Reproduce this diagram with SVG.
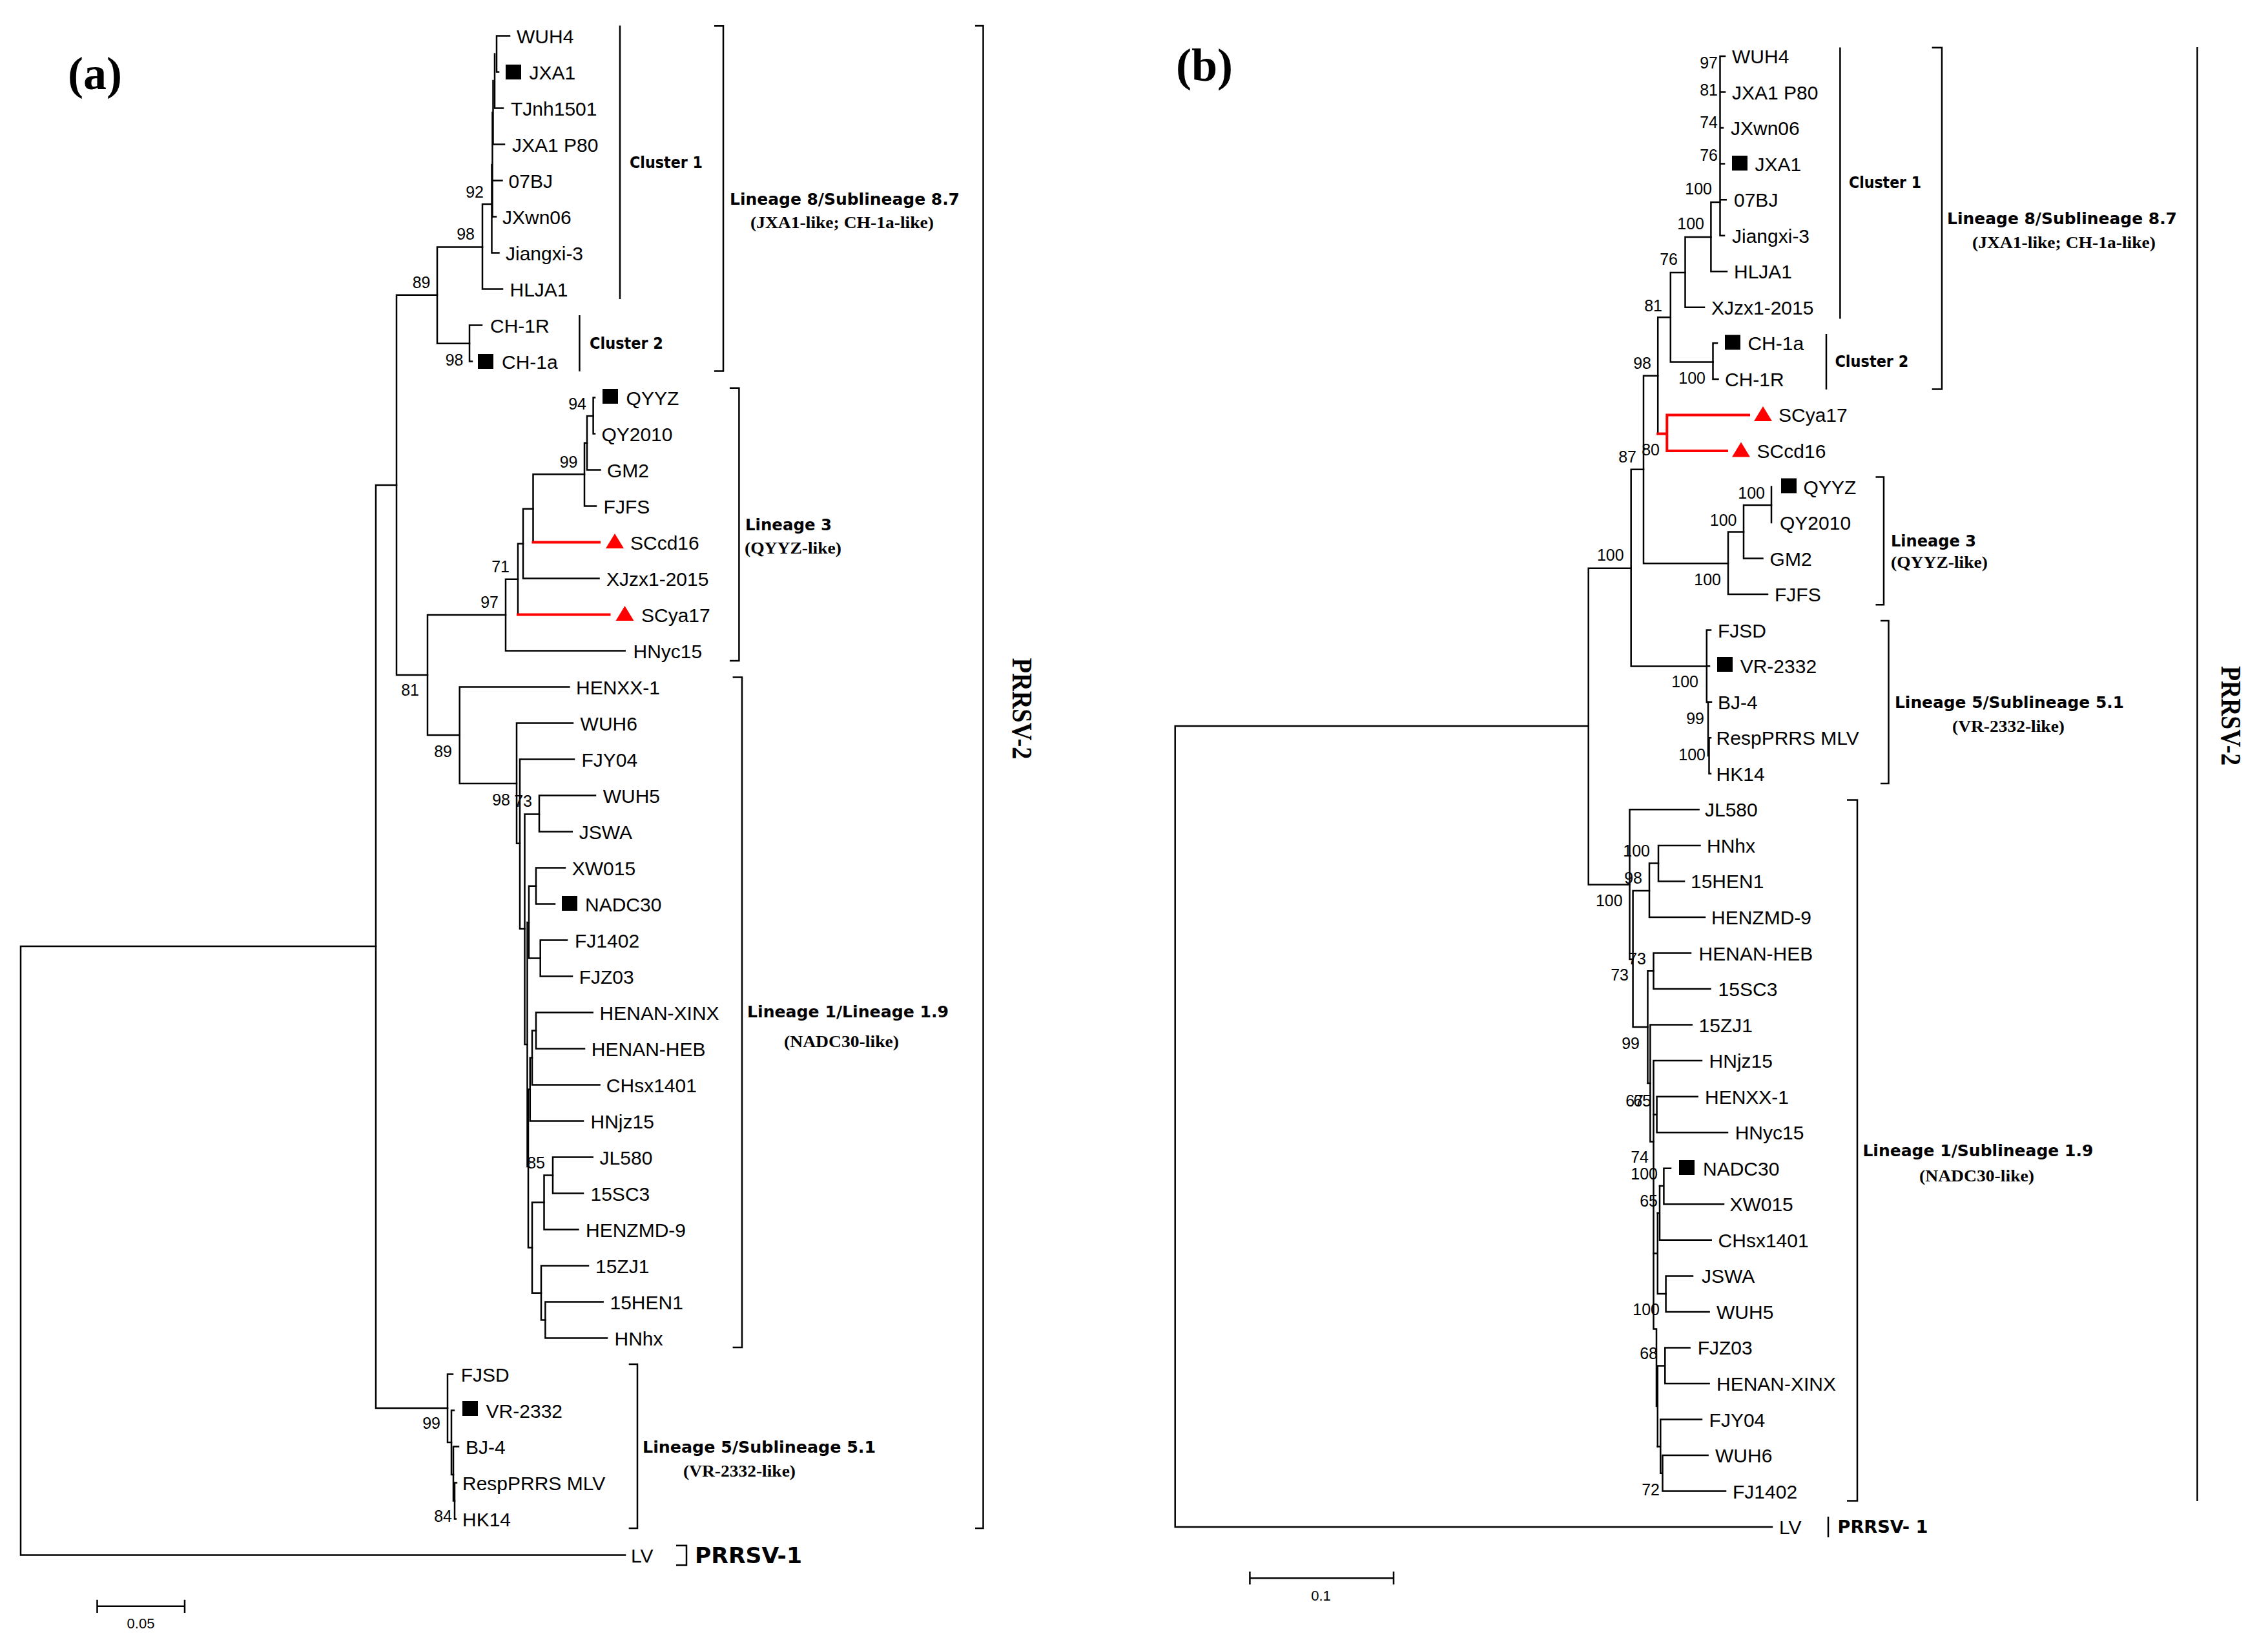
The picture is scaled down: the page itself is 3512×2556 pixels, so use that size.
<svg xmlns="http://www.w3.org/2000/svg" xmlns:xlink="http://www.w3.org/1999/xlink" width="3512" height="2556" viewBox="0 0 3512 2556">
<style>
.br{fill:none;stroke:#000;stroke-width:2.5;stroke-linecap:square}
.red{fill:none;stroke:#f00;stroke-width:4;stroke-linecap:square}
.brk{fill:none;stroke:#000;stroke-width:2.5}
text{font-family:"Liberation Sans",Arial,sans-serif;fill:#000}
.tip{font-size:30px}
.bs{font-size:25px;text-anchor:end}
.grp{font-family:"DejaVu Sans",Verdana,sans-serif;font-weight:bold;font-size:25px}
.sub{font-family:"Liberation Serif","Times New Roman",serif;font-weight:bold;font-size:25px}
.pl{font-family:"Liberation Serif","Times New Roman",serif;font-weight:bold;font-size:72px}
.rot{font-family:"Liberation Serif","Times New Roman",serif;font-weight:bold;font-size:44px;text-anchor:middle}
.sc{font-size:22px;text-anchor:middle}
</style>
<defs>
<rect id="sq" width="24" height="23" fill="#000"/>
<path id="tri" d="M14,0 L28,23 L0,23 Z" fill="#f00"/>
</defs>
<rect width="3512" height="2556" fill="#fff"/>

<text class="pl" x="105" y="138">(a)</text>
<text class="pl" x="1821" y="125">(b)</text>

<!-- ===== Panel (a) connectors ===== -->
<g id="connectors-a">
<path class="br" d="M582,1465 H32 V2407.5 H968"/>
<path class="br" d="M614,751 H582 V2180 H693"/>
<path class="br" d="M677,456.7 H614 V1045 H662"/>
<path class="br" d="M747,382.4 H677 V531.8 H727"/>
<path class="br" d="M761.5,316 H747 V447.5 H778"/>
<path class="br" d="M761.5,255 V391.5 H772.5"/>
<path class="br" d="M762.5,174 V335.5 H768 M762.5,279.5 H777.5"/>
<path class="br" d="M763.5,125 V223.5 H781"/>
<path class="br" d="M766,83.5 V167.5 H779"/>
<path class="br" d="M772,111.5 H769 V55.5 H789"/>
<path class="br" d="M746,503.5 H727 V559.5 H731"/>
<path class="br" d="M783,952 H662 V1138 H711.7"/>
<path class="br" d="M802,896.7 H783 V1007.5 H967.7"/>
<path class="br" d="M810,841.7 H802 V951.5"/>
<path class="red" d="M802,951.5 H943.5"/>
<path class="br" d="M825.5,787.7 H810 V895.5 H927.5"/>
<path class="br" d="M905,734.3 H825.5 V839.5"/>
<path class="red" d="M825.5,839.5 H928"/>
<path class="br" d="M909,685.7 H905 V783.5 H923"/>
<path class="br" d="M918.6,644 H909 V727.5 H929.5"/>
<path class="br" d="M921,615.5 H918.6 V671.5 H921"/>
<path class="br" d="M881.4,1063.5 H711.7 V1213 H800"/>
<path class="br" d="M887,1119.5 H800 V1305.7 H805"/>
<path class="br" d="M889,1175.5 H805 V1438 H812.5"/>
<path class="br" d="M835,1260.4 H812.5 V1617 H816.5"/>
<path class="br" d="M922,1231.5 H835 V1287.5 H885.8"/>
<path class="br" d="M819,1428 H816.5 V1806 H818"/>
<path class="br" d="M830,1371.8 H819 V1483.6 H836.7"/>
<path class="br" d="M875,1343.5 H830 V1399.5 H859"/>
<path class="br" d="M878,1455.5 H836.7 V1511.5 H886"/>
<path class="br" d="M820.8,1686.5 H818 V1931.5 H824"/>
<path class="br" d="M824,1637.6 H820.8 V1735.5 H903"/>
<path class="br" d="M830,1595.5 H824 V1679.5 H928.6"/>
<path class="br" d="M917.7,1567.5 H830 V1623.5 H905"/>
<path class="br" d="M842.5,1861.6 H824 V2001.7 H838"/>
<path class="br" d="M856,1819.5 H842.5 V1903.5 H895.4"/>
<path class="br" d="M917.7,1791.5 H856 V1847.5 H903"/>
<path class="br" d="M911,1959.5 H838 V2043.5 H844.4"/>
<path class="br" d="M933.7,2015.5 H844.4 V2071.5 H940"/>
<path class="br" d="M701,2127.5 H693 V2233 H699"/>
<path class="br" d="M703,2183.5 H699 V2283 H702"/>
<path class="br" d="M710,2239.5 H702 V2323.5 H704"/>
<path class="br" d="M707,2295.5 H704 V2351.5 H706"/>
</g>

<!-- Panel (a) brackets -->
<g id="brackets-a">
<path class="brk" d="M960,39.5 V463"/>
<path class="brk" d="M897.4,488 V575"/>
<path class="brk" d="M1106,40.3 H1120 V574.5 H1106"/>
<path class="brk" d="M1130,600.7 H1144.4 V1023 H1130"/>
<path class="brk" d="M1134.6,1048.6 H1149 V2086 H1134.6"/>
<path class="brk" d="M973.7,2112 H987 V2366 H973.7"/>
<path class="brk" d="M1510,40 H1522.5 V2366 H1510"/>
<path class="brk" d="M1047,2392.7 H1063 V2423 H1047"/>
</g>

<!-- Panel (a) leaves -->
<g id="a-WUH4"><text class="tip" x="800" y="66.5">WUH4</text></g>
<g id="a-JXA1"><use href="#sq" x="783" y="100"/><text class="tip" x="819.5" y="122.5">JXA1</text></g>
<g id="a-TJnh1501"><text class="tip" x="791" y="178.5">TJnh1501</text></g>
<g id="a-JXA1P80"><text class="tip" x="793" y="234.5">JXA1 P80</text></g>
<g id="a-07BJ"><text class="tip" x="787.6" y="290.5">07BJ</text></g>
<g id="a-JXwn06"><text class="tip" x="778" y="346.5">JXwn06</text></g>
<g id="a-Jiangxi3"><text class="tip" x="783" y="402.5">Jiangxi-3</text></g>
<g id="a-HLJA1"><text class="tip" x="789.5" y="458.5">HLJA1</text></g>
<g id="a-CH1R"><text class="tip" x="759" y="514.5">CH-1R</text></g>
<g id="a-CH1a"><use href="#sq" x="740" y="548"/><text class="tip" x="777" y="570.5">CH-1a</text></g>
<g id="a-QYYZ"><use href="#sq" x="933" y="602"/><text class="tip" x="969.6" y="626.5">QYYZ</text></g>
<g id="a-QY2010"><text class="tip" x="931.4" y="682.5">QY2010</text></g>
<g id="a-GM2"><text class="tip" x="940" y="738.5">GM2</text></g>
<g id="a-FJFS"><text class="tip" x="934.6" y="794.5">FJFS</text></g>
<g id="a-SCcd16"><use href="#tri" x="938" y="826"/><text class="tip" x="976" y="850.5">SCcd16</text></g>
<g id="a-XJzx1-2015"><text class="tip" x="939" y="906.5">XJzx1-2015</text></g>
<g id="a-SCya17"><use href="#tri" x="953.5" y="938"/><text class="tip" x="993" y="962.5">SCya17</text></g>
<g id="a-HNyc15"><text class="tip" x="980.5" y="1018.5">HNyc15</text></g>
<g id="a-HENXX-1"><text class="tip" x="892" y="1074.5">HENXX-1</text></g>
<g id="a-WUH6"><text class="tip" x="898.6" y="1130.5">WUH6</text></g>
<g id="a-FJY04"><text class="tip" x="900.5" y="1186.5">FJY04</text></g>
<g id="a-WUH5"><text class="tip" x="933.7" y="1242.5">WUH5</text></g>
<g id="a-JSWA"><text class="tip" x="896.7" y="1298.5">JSWA</text></g>
<g id="a-XW015"><text class="tip" x="885.8" y="1354.5">XW015</text></g>
<g id="a-NADC30"><use href="#sq" x="870" y="1387"/><text class="tip" x="906" y="1410.5">NADC30</text></g>
<g id="a-FJ1402"><text class="tip" x="890" y="1466.5">FJ1402</text></g>
<g id="a-FJZ03"><text class="tip" x="896.7" y="1522.5">FJZ03</text></g>
<g id="a-HENAN-XINX"><text class="tip" x="928.6" y="1578.5">HENAN-XINX</text></g>
<g id="a-HENAN-HEB"><text class="tip" x="915.8" y="1634.5">HENAN-HEB</text></g>
<g id="a-CHsx1401"><text class="tip" x="938.8" y="1690.5">CHsx1401</text></g>
<g id="a-HNjz15"><text class="tip" x="914.5" y="1746.5">HNjz15</text></g>
<g id="a-JL580"><text class="tip" x="928.6" y="1802.5">JL580</text></g>
<g id="a-15SC3"><text class="tip" x="914.5" y="1858.5">15SC3</text></g>
<g id="a-HENZMD-9"><text class="tip" x="907" y="1914.5">HENZMD-9</text></g>
<g id="a-15ZJ1"><text class="tip" x="922" y="1970.5">15ZJ1</text></g>
<g id="a-15HEN1"><text class="tip" x="944.5" y="2026.5">15HEN1</text></g>
<g id="a-HNhx"><text class="tip" x="951.5" y="2082.5">HNhx</text></g>
<g id="a-FJSD"><text class="tip" x="713.7" y="2138.5">FJSD</text></g>
<g id="a-VR-2332"><use href="#sq" x="716" y="2169"/><text class="tip" x="752.6" y="2194.5">VR-2332</text></g>
<g id="a-BJ-4"><text class="tip" x="721" y="2250.5">BJ-4</text></g>
<g id="a-RespPRRS"><text class="tip" x="716" y="2306.5">RespPRRS MLV</text></g>
<g id="a-HK14"><text class="tip" x="716" y="2362.5">HK14</text></g>
<g id="a-LV"><text class="tip" x="977" y="2418.5">LV</text></g>

<!-- Panel (a) bootstrap -->
<g id="bootstrap-a">
<text class="bs" x="666.5" y="446">89</text>
<text class="bs" x="749" y="306">92</text>
<text class="bs" x="735" y="371">98</text>
<text class="bs" x="717.5" y="566">98</text>
<text class="bs" x="908" y="634">94</text>
<text class="bs" x="894.5" y="724">99</text>
<text class="bs" x="789" y="885.7">71</text>
<text class="bs" x="772" y="940.7">97</text>
<text class="bs" x="649" y="1077">81</text>
<text class="bs" x="700" y="1172">89</text>
<text class="bs" x="790" y="1247">98</text>
<text class="bs" x="824" y="1249">73</text>
<text class="bs" x="844" y="1809">85</text>
<text class="bs" x="682" y="2212">99</text>
<text class="bs" x="700" y="2356">84</text>
</g>

<!-- Panel (a) group labels -->
<g id="labels-a">
<text class="grp" x="975" y="260" textLength="113" lengthAdjust="spacingAndGlyphs">Cluster 1</text>
<text class="grp" x="913" y="540" textLength="114" lengthAdjust="spacingAndGlyphs">Cluster 2</text>
<text class="grp" x="1130" y="316.5" textLength="356" lengthAdjust="spacingAndGlyphs">Lineage 8/Sublineage 8.7</text>
<text class="sub" x="1162" y="353" textLength="284" lengthAdjust="spacingAndGlyphs">(JXA1-like; CH-1a-like)</text>
<text class="grp" x="1154" y="820.7" textLength="134" lengthAdjust="spacingAndGlyphs">Lineage 3</text>
<text class="sub" x="1153" y="856.7" textLength="150" lengthAdjust="spacingAndGlyphs">(QYYZ-like)</text>
<text class="grp" x="1157" y="1575.4" textLength="312" lengthAdjust="spacingAndGlyphs">Lineage 1/Lineage 1.9</text>
<text class="sub" x="1214" y="1621" textLength="178" lengthAdjust="spacingAndGlyphs">(NADC30-like)</text>
<text class="grp" x="995" y="2249" textLength="361" lengthAdjust="spacingAndGlyphs">Lineage 5/Sublineage 5.1</text>
<text class="sub" x="1058" y="2286" textLength="174" lengthAdjust="spacingAndGlyphs">(VR-2332-like)</text>
<text class="grp" x="1076" y="2420" style="font-size:33px" textLength="166" lengthAdjust="spacingAndGlyphs">PRRSV-1</text>
<text class="rot" transform="translate(1568,1097) rotate(90)" x="0" y="0" textLength="157" lengthAdjust="spacingAndGlyphs">PRRSV-2</text>
</g>

<!-- Panel (a) scale bar -->
<g id="scale-a">
<path class="brk" d="M150.5,2486.7 H286 M150.5,2476.7 V2497 M286,2476.7 V2497"/>
<text class="sc" x="218" y="2521">0.05</text>
</g>

<!-- ===== Panel (b) connectors ===== -->
<g id="connectors-b">
<path class="br" d="M2459.7,1124 H1819.7 V2364 H2744"/>
<path class="br" d="M2525.7,879.8 H2459.7 V1369.5 H2523.5"/>
<path class="br" d="M2545,726.8 H2525.7 V1031.5 H2642.8"/>
<path class="br" d="M2567.2,581.7 H2545 V872.3 H2676"/>
<path class="br" d="M2586.8,491.3 H2567.2 V671.4"/>
<path class="red" d="M2567.2,671.4 H2581.3 M2708,642.4 H2581.3 V697.9 H2674"/>
<path class="br" d="M2609.5,422 H2586.8 V560.5 H2652.5"/>
<path class="br" d="M2659,531.3 H2652.5 V586.9 H2660.5"/>
<path class="br" d="M2649.4,367 H2609.5 V475.8 H2639"/>
<path class="br" d="M2663.5,313 H2649.4 V420.2 H2674"/>
<path class="br" d="M2671,87 H2663.5 V364.7 H2670 M2663.5,142.5 H2671 M2663.5,198.1 H2668 M2663.5,253.6 H2670 M2663.5,309.2 H2672.7"/>
<path class="br" d="M2700,823.6 H2676 V920.1 H2737"/>
<path class="br" d="M2743,782 H2700 V864.6 H2729.5"/>
<path class="br" d="M2743,753.5 V809"/>
<path class="br" d="M2649,975.6 H2642.8 V1087 H2645 M2642.8,1031.2 H2647"/>
<path class="br" d="M2645,1086.7 V1170 M2645,1086.7 H2650 M2645,1170 H2646.5 M2646.5,1142.3 V1197.8 M2646.5,1142.3 H2649 M2646.5,1197.8 H2649"/>
<path class="br" d="M2630.6,1253.3 H2523.5 V1485 H2528.6"/>
<path class="br" d="M2554,1379 H2528.6 V1590 H2551.5"/>
<path class="br" d="M2568,1336.6 H2554 V1420 H2640"/>
<path class="br" d="M2632.5,1308.9 H2568 V1364.4 H2608"/>
<path class="br" d="M2560.5,1503.3 H2551.5 V1677 H2555.4"/>
<path class="br" d="M2618,1475.5 H2560.5 V1531 H2648.5"/>
<path class="br" d="M2619.8,1586.6 H2555.4 V1767.6 H2560.5"/>
<path class="br" d="M2635,1642.1 H2560.5 V2057.5 H2565 V2177 H2566.8"/>
<path class="br" d="M2560.5,1725.5 H2565.6 M2628.7,1697.7 H2565.6 V1753.2 H2675"/>
<path class="br" d="M2570,1836 H2576.4 M2587,1808.7 H2576.4 V1864.3 H2669"/>
<path class="br" d="M2570,1836 V1919.8 H2649.7 M2566.8,1878 H2570"/>
<path class="br" d="M2560.5,1940.5 H2566.8 M2566.8,1878 V2003 H2579.6"/>
<path class="br" d="M2621,1975.4 H2579.6 V2030.9 H2646.6"/>
<path class="br" d="M2566.8,2114.6 V2239.6 M2566.8,2114.6 H2578.3 M2616.6,2086.4 H2578.3 V2142 H2646.6"/>
<path class="br" d="M2566.8,2239.6 H2571.3 M2635,2197.5 H2571.3 V2280.7 H2574.5 M2644.6,2253.1 H2574.5 V2308.6 H2672"/>
</g>

<!-- Panel (b) brackets -->
<g id="brackets-b">
<path class="brk" d="M2849.4,73.4 V493.4"/>
<path class="brk" d="M2828,517 V603"/>
<path class="brk" d="M2991.7,73.8 H3007 V602.4 H2991.7"/>
<path class="brk" d="M2904.5,738.6 H2917 V936.3 H2904.5"/>
<path class="brk" d="M2912,961 H2924.5 V1213 H2912"/>
<path class="brk" d="M2860,1238.6 H2876 V2323.6 H2860"/>
<path class="brk" d="M3402.5,73 V2324"/>
<path class="brk" d="M2831,2348 V2380"/>
</g>

<!-- Panel (b) leaves -->
<g id="b-WUH4"><text class="tip" x="2682" y="98">WUH4</text></g>
<g id="b-JXA1P80"><text class="tip" x="2682" y="153.5">JXA1 P80</text></g>
<g id="b-JXwn06"><text class="tip" x="2680" y="209.1">JXwn06</text></g>
<g id="b-JXA1"><use href="#sq" x="2682" y="241"/><text class="tip" x="2717.5" y="264.6">JXA1</text></g>
<g id="b-07BJ"><text class="tip" x="2685" y="320.2">07BJ</text></g>
<g id="b-Jiangxi3"><text class="tip" x="2682" y="375.7">Jiangxi-3</text></g>
<g id="b-HLJA1"><text class="tip" x="2685" y="431.2">HLJA1</text></g>
<g id="b-XJzx1-2015"><text class="tip" x="2650" y="486.8">XJzx1-2015</text></g>
<g id="b-CH1a"><use href="#sq" x="2671" y="518.5"/><text class="tip" x="2706.4" y="542.3">CH-1a</text></g>
<g id="b-CH1R"><text class="tip" x="2671" y="597.9">CH-1R</text></g>
<g id="b-SCya17"><use href="#tri" x="2716" y="629"/><text class="tip" x="2754" y="653.4">SCya17</text></g>
<g id="b-SCcd16"><use href="#tri" x="2682" y="684.5"/><text class="tip" x="2720.6" y="708.9">SCcd16</text></g>
<g id="b-QYYZ"><use href="#sq" x="2758" y="740.5"/><text class="tip" x="2792.6" y="764.5">QYYZ</text></g>
<g id="b-QY2010"><text class="tip" x="2756" y="820">QY2010</text></g>
<g id="b-GM2"><text class="tip" x="2740.6" y="875.6">GM2</text></g>
<g id="b-FJFS"><text class="tip" x="2748" y="931.1">FJFS</text></g>
<g id="b-FJSD"><text class="tip" x="2660" y="986.6">FJSD</text></g>
<g id="b-VR-2332"><use href="#sq" x="2659" y="1017"/><text class="tip" x="2694.7" y="1042.2">VR-2332</text></g>
<g id="b-BJ-4"><text class="tip" x="2660" y="1097.7">BJ-4</text></g>
<g id="b-RespPRRS"><text class="tip" x="2657.6" y="1153.3">RespPRRS MLV</text></g>
<g id="b-HK14"><text class="tip" x="2657.6" y="1208.8">HK14</text></g>
<g id="b-JL580"><text class="tip" x="2640" y="1264.3">JL580</text></g>
<g id="b-HNhx"><text class="tip" x="2643" y="1319.9">HNhx</text></g>
<g id="b-15HEN1"><text class="tip" x="2618" y="1375.4">15HEN1</text></g>
<g id="b-HENZMD-9"><text class="tip" x="2650" y="1431">HENZMD-9</text></g>
<g id="b-HENAN-HEB"><text class="tip" x="2630.6" y="1486.5">HENAN-HEB</text></g>
<g id="b-15SC3"><text class="tip" x="2660.6" y="1542">15SC3</text></g>
<g id="b-15ZJ1"><text class="tip" x="2630.6" y="1597.6">15ZJ1</text></g>
<g id="b-HNjz15"><text class="tip" x="2646.6" y="1653.1">HNjz15</text></g>
<g id="b-HENXX-1"><text class="tip" x="2640" y="1708.7">HENXX-1</text></g>
<g id="b-HNyc15"><text class="tip" x="2686.7" y="1764.2">HNyc15</text></g>
<g id="b-NADC30"><use href="#sq" x="2600" y="1796"/><text class="tip" x="2637" y="1819.7">NADC30</text></g>
<g id="b-XW015"><text class="tip" x="2678.4" y="1875.3">XW015</text></g>
<g id="b-CHsx1401"><text class="tip" x="2660.6" y="1930.8">CHsx1401</text></g>
<g id="b-JSWA"><text class="tip" x="2635" y="1986.4">JSWA</text></g>
<g id="b-WUH5"><text class="tip" x="2658" y="2041.9">WUH5</text></g>
<g id="b-FJZ03"><text class="tip" x="2628.7" y="2097.4">FJZ03</text></g>
<g id="b-HENAN-XINX"><text class="tip" x="2658" y="2153">HENAN-XINX</text></g>
<g id="b-FJY04"><text class="tip" x="2646.6" y="2208.5">FJY04</text></g>
<g id="b-WUH6"><text class="tip" x="2656" y="2264.1">WUH6</text></g>
<g id="b-FJ1402"><text class="tip" x="2683" y="2319.6">FJ1402</text></g>
<g id="b-LV"><text class="tip" x="2755" y="2375.1">LV</text></g>

<!-- Panel (b) bootstrap -->
<g id="bootstrap-b">
<text class="bs" x="2660" y="106.4">97</text>
<text class="bs" x="2660" y="148">81</text>
<text class="bs" x="2660" y="197.6">74</text>
<text class="bs" x="2660" y="248.6">76</text>
<text class="bs" x="2651" y="301.3">100</text>
<text class="bs" x="2639" y="355">100</text>
<text class="bs" x="2598" y="410">76</text>
<text class="bs" x="2574" y="481.6">81</text>
<text class="bs" x="2557" y="570.8">98</text>
<text class="bs" x="2641" y="593.6">100</text>
<text class="bs" x="2570" y="705.3">80</text>
<text class="bs" x="2534" y="716">87</text>
<text class="bs" x="2514.6" y="868">100</text>
<text class="bs" x="2733" y="772">100</text>
<text class="bs" x="2689.5" y="814">100</text>
<text class="bs" x="2665" y="905.8">100</text>
<text class="bs" x="2630" y="1064">100</text>
<text class="bs" x="2639" y="1121">99</text>
<text class="bs" x="2641" y="1176.6">100</text>
<text class="bs" x="2555" y="1326">100</text>
<text class="bs" x="2543" y="1368">98</text>
<text class="bs" x="2512.6" y="1403">100</text>
<text class="bs" x="2549" y="1493">73</text>
<text class="bs" x="2522" y="1517.6">73</text>
<text class="bs" x="2539" y="1623.6">99</text>
<text class="bs" x="2545" y="1713">67</text>
<text class="bs" x="2557" y="1713">65</text>
<text class="bs" x="2553" y="1800">74</text>
<text class="bs" x="2567" y="1826">100</text>
<text class="bs" x="2567" y="1868">65</text>
<text class="bs" x="2570" y="2036">100</text>
<text class="bs" x="2567" y="2104">68</text>
<text class="bs" x="2570" y="2314.7">72</text>
</g>

<!-- Panel (b) group labels -->
<g id="labels-b">
<text class="grp" x="2863" y="291" textLength="112" lengthAdjust="spacingAndGlyphs">Cluster 1</text>
<text class="grp" x="2841.4" y="568" textLength="114" lengthAdjust="spacingAndGlyphs">Cluster 2</text>
<text class="grp" x="3015" y="347" textLength="356" lengthAdjust="spacingAndGlyphs">Lineage 8/Sublineage 8.7</text>
<text class="sub" x="3054" y="384" textLength="284" lengthAdjust="spacingAndGlyphs">(JXA1-like; CH-1a-like)</text>
<text class="grp" x="2928" y="845.7" textLength="132" lengthAdjust="spacingAndGlyphs">Lineage 3</text>
<text class="sub" x="2928" y="879" textLength="150" lengthAdjust="spacingAndGlyphs">(QYYZ-like)</text>
<text class="grp" x="2934" y="1095.6" textLength="355" lengthAdjust="spacingAndGlyphs">Lineage 5/Sublineage 5.1</text>
<text class="sub" x="3023" y="1133" textLength="174" lengthAdjust="spacingAndGlyphs">(VR-2332-like)</text>
<text class="grp" x="2884.4" y="1789.7" textLength="357" lengthAdjust="spacingAndGlyphs">Lineage 1/Sublineage 1.9</text>
<text class="sub" x="2972" y="1829" textLength="178" lengthAdjust="spacingAndGlyphs">(NADC30-like)</text>
<text class="grp" x="2845.5" y="2373" style="font-size:27px" textLength="140" lengthAdjust="spacingAndGlyphs">PRRSV- 1</text>
<text class="rot" transform="translate(3440,1108) rotate(90)" x="0" y="0" textLength="154" lengthAdjust="spacingAndGlyphs">PRRSV-2</text>
</g>

<!-- Panel (b) scale bar -->
<g id="scale-b">
<path class="brk" d="M1935.4,2443.3 H2158 M1935.4,2433 V2453 M2158,2433 V2453"/>
<text class="sc" x="2045.5" y="2478">0.1</text>
</g>
</svg>
